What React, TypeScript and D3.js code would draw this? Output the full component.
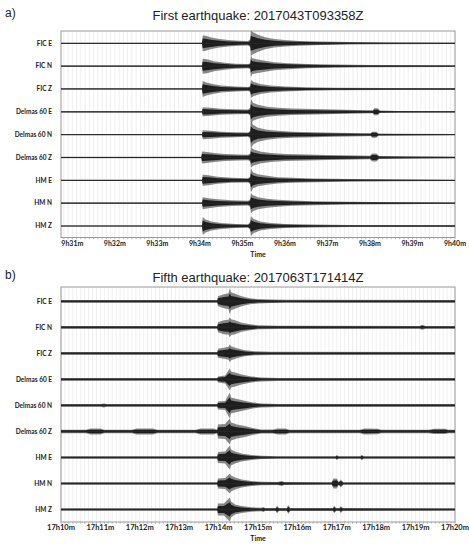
import React from "react";
import * as d3 from "d3";

// ---------- data ----------
const stations = ["FIC E", "FIC N", "FIC Z", "Delmas 60 E", "Delmas 60 N", "Delmas 60 Z", "HM E", "HM N", "HM Z"];

// Panel a: time in seconds after 09h30m00, envelope half-amplitude (arbitrary units)
const titleA = "First earthquake: 2017043T093358Z";
const domainA: [number, number] = [44, 600];
const tickSecA = [60, 120, 180, 240, 300, 360, 420, 480, 540, 600];
const tickLabA = ["9h31m", "9h32m", "9h33m", "9h34m", "9h35m", "9h36m", "9h37m", "9h38m", "9h39m", "9h40m"];

const aFicE: [number, number][] = [[44,0.6],[243,0.6],[244,8],[248,7.5],[255,6],[265,4.5],[280,3.2],[295,2.5],[308,2.2],[311,4],[312,12.5],[315,11],[322,8.5],[332,6],[345,4.2],[360,3.2],[380,2.4],[410,1.8],[450,1.3],[500,0.9],[600,0.7]];
const aFicN: [number, number][] = [[44,0.6],[243,0.6],[244,7.5],[250,7],[260,5],[275,3.5],[290,2.5],[308,2.2],[311,3],[312,11],[314,8],[320,7],[332,5.5],[345,4],[365,3],[390,2.2],[430,1.6],[480,1.1],[600,0.8]];
const aFicZ: [number, number][] = [[44,0.6],[243,0.6],[244,8],[249,6.5],[258,5],[270,3.5],[290,2.5],[308,2],[311,3],[312,9],[316,7],[325,5],[340,3.5],[360,2.5],[390,1.8],[430,1.3],[500,0.9],[600,0.7]];
const aDelE: [number, number][] = [[44,0.6],[243,0.6],[244,4.5],[255,4],[270,3],[290,2.5],[308,2.3],[311,4],[312,13],[315,9],[322,7],[335,5],[350,4],[370,3.2],[400,2.8],[430,2.2],[470,1.6],[484,1.5],[486,3.5],[491,3.5],[494,1.2],[520,0.9],[600,0.7]];
const aDelN: [number, number][] = [[44,0.6],[243,0.6],[244,4.5],[255,4],[270,3],[290,2.5],[308,2.2],[311,4],[312,14],[315,10],[322,7],[335,5],[350,3.8],[370,3],[400,2.5],[430,2],[470,1.5],[481,1.3],[483,3],[489,3],[492,1.2],[520,0.9],[600,0.7]];
const aDelZ: [number, number][] = [[44,0.7],[242,0.7],[243,6],[250,5.5],[260,4.5],[275,3.5],[295,3],[308,2.8],[311,4],[312,10],[316,8],[325,6],[340,4.5],[360,3.5],[390,3],[420,2.5],[460,2],[480,1.8],[483,4],[489,4],[493,1.6],[530,1.2],[600,1]];
const aHmE: [number, number][] = [[44,0.6],[243,0.6],[244,5.5],[252,5],[265,3.5],[285,2.5],[308,2.2],[311,4],[312,12],[315,8],[322,6],[335,4.5],[350,3.2],[370,2.5],[400,1.8],[450,1.3],[520,0.9],[600,0.7]];
const aHmN: [number, number][] = [[44,0.6],[243,0.6],[244,6],[252,5],[265,3.8],[285,2.8],[308,2.3],[311,4],[312,10],[315,8],[322,6],[335,4.5],[350,3.5],[370,2.7],[400,2],[450,1.4],[520,1],[600,0.7]];
const aHmZ: [number, number][] = [[44,0.6],[243,0.6],[244,9],[248,6.5],[256,4.5],[270,3],[290,2],[308,1.8],[311,4],[312,10],[316,7],[325,4.5],[340,3],[360,2],[400,1.4],[450,1],[600,0.7]];

// Panel b: time in seconds after 17h10m00
const titleB = "Fifth earthquake: 2017063T171414Z";
const domainB: [number, number] = [0, 600];
const tickSecB = [0, 60, 120, 180, 240, 300, 360, 420, 480, 540, 600];
const tickLabB = ["17h10m", "17h11m", "17h12m", "17h13m", "17h14m", "17h15m", "17h16m", "17h17m", "17h18m", "17h19m", "17h20m"];

const bFicE: [number, number][] = [[0,1.4],[238,1.4],[239,5],[248,7],[255,8],[257,13],[259,9],[265,7.5],[275,5],[288,3],[300,2.2],[320,1.8],[340,1.5],[600,1.4]];
const bFicN: [number, number][] = [[0,1.4],[238,1.4],[239,5],[248,7],[255,7.5],[257,10],[259,8],[265,7],[275,4.5],[288,3],[300,2],[330,1.6],[546,1.4],[550,2.5],[555,1.4],[600,1.4]];
const bFicZ: [number, number][] = [[0,1.4],[238,1.4],[239,4.5],[248,5.5],[255,6.5],[257,9],[259,7],[268,5],[280,3],[295,2],[320,1.6],[600,1.4]];
const bDelE: [number, number][] = [[0,1.3],[238,1.3],[239,3],[250,4],[257,11],[259,8],[265,7],[275,5],[290,3],[305,2],[330,1.5],[600,1.3]];
const bDelN: [number, number][] = [[0,1.3],[60,1.3],[65,2],[70,1.3],[238,1.3],[239,4],[250,4.5],[257,13],[259,8],[265,7],[278,5],[292,3],[305,2],[330,1.5],[600,1.3]];
const bDelZ: [number, number][] = [[0,1.8],[38,1.8],[45,3],[60,3],[66,1.8],[108,1.8],[115,3],[140,3],[147,1.8],[205,1.8],[212,3],[232,3],[238,2],[239,7],[250,7.5],[257,13],[259,9],[268,7],[280,5.5],[292,3.5],[305,2],[322,2],[330,3],[342,3],[348,1.8],[455,1.8],[462,3],[482,2.8],[488,1.8],[560,1.8],[568,2.6],[585,2.6],[590,1.8],[600,1.8]];
const bHmE: [number, number][] = [[0,1.2],[238,1.2],[239,5.5],[250,6],[257,12],[259,8],[265,6],[275,4],[290,2.5],[305,1.6],[330,1.3],[418,1.3],[420,2.5],[423,1.3],[456,1.3],[458,2.8],[461,1.3],[600,1.2]];
const bHmN: [number, number][] = [[0,1.2],[238,1.2],[239,5],[250,5.5],[257,10],[259,8],[265,6],[275,4],[290,2.5],[305,1.8],[330,1.6],[336,2.5],[340,1.5],[412,1.3],[415,5],[420,5],[423,1.5],[426,4],[430,1.3],[600,1.2]];
const bHmZ: [number, number][] = [[0,1.2],[238,1.2],[239,6],[248,6],[257,12],[259,8],[265,5],[275,3.5],[290,2.2],[305,1.8],[308,2.5],[311,1.6],[327,1.6],[329,3.8],[332,1.6],[344,1.6],[346,4.5],[349,1.6],[414,1.5],[416,3.8],[419,1.5],[424,1.5],[426,3.5],[429,1.5],[600,1.2]];

const seriesA = [aFicE, aFicN, aFicZ, aDelE, aDelN, aDelZ, aHmE, aHmN, aHmZ];
const seriesB = [bFicE, bFicN, bFicZ, bDelE, bDelN, bDelZ, bHmE, bHmN, bHmZ];

// ---------- component ----------
type PanelProps = {
  tag: string;
  title: string;
  titleY: number;
  top: number;
  bottom: number;
  traceTop: number;
  traceBottom: number;
  domain: [number, number];
  tickSec: number[];
  tickLab: string[];
  series: [number, number][][];
  tickFont: number;
};

function Panel(p: PanelProps) {
  const left = 61;
  const right = 455;
  const x = d3.scaleLinear().domain(p.domain).range([left, right]);
  const y = d3.scalePoint<string>().domain(stations).range([p.traceTop, p.traceBottom]);
  const amp = d3.scaleLinear().domain([0, 10]).range([0, 10]);
  const grid = d3.range(Math.ceil(p.domain[0] / 6) * 6, p.domain[1] + 0.1, 6);

  return (
    <g>
      <text x={5} y={p.titleY - 3} fontFamily="Liberation Sans, Arial, sans-serif" fontSize={12} fill="#222">{p.tag}</text>
      <text x={258} y={p.titleY} textAnchor="middle" fontFamily="Liberation Sans, Arial, sans-serif" fontSize={13} fill="#222">{p.title}</text>
      {grid.map((g, i) => (
        <line key={"g" + i} x1={x(g)} x2={x(g)} y1={p.top} y2={p.bottom} stroke="#ebebeb" strokeWidth={0.8} />
      ))}
      {grid.map((g, i) => (
        <line key={"m" + i} x1={x(g)} x2={x(g)} y1={p.bottom} y2={p.bottom + 1.8} stroke="#aaa" strokeWidth={0.8} />
      ))}
      <rect x={left} y={p.top} width={right - left} height={p.bottom - p.top} fill="none" stroke="#9a9a9a" strokeWidth={1} />
      {stations.map((s, i) => {
        const yc = y(s) as number;
        const outer = d3.area<[number, number]>()
          .x((d) => x(d[0]))
          .y0((d) => yc + amp(d[1]))
          .y1((d) => yc - amp(d[1]));
        const inner = d3.area<[number, number]>()
          .x((d) => x(d[0]))
          .y0((d) => yc + amp(d[1]) * 0.6)
          .y1((d) => yc - amp(d[1]) * 0.6);
        return (
          <g key={s}>
            <path d={outer(p.series[i]) || ""} fill="#555" fillOpacity={0.7} />
            <path d={inner(p.series[i]) || ""} fill="#1e1e1e" />
            <line x1={left} x2={right} y1={yc} y2={yc} stroke="#2a2a2a" strokeWidth={0.8} />
            <text x={52} y={yc + 2.2} textAnchor="end" fontFamily="Lato, sans-serif" fontWeight="bold" fontSize={6.5} fill="#222">{s}</text>
          </g>
        );
      })}
      {p.tickSec.map((t, i) => (
        <text key={"t" + i} x={x(t)} y={p.bottom + 8} textAnchor="middle" fontFamily="Lato, sans-serif" fontWeight="bold" fontSize={p.tickFont} fill="#222">{p.tickLab[i]}</text>
      ))}
      <text x={(left + right) / 2} y={p.bottom + 19} textAnchor="middle" fontFamily="Lato, sans-serif" fontWeight="bold" fontSize={7} fill="#222">Time</text>
    </g>
  );
}

export default function App() {
  return (
    <svg width={469} height={550} style={{ position: "absolute", left: 0, top: 0, background: "#fff" }}>
      <rect x={0} y={0} width={469} height={550} fill="#fff" />
      <Panel tag="a)" title={titleA} titleY={20} top={31} bottom={237.5} traceTop={43.3} traceBottom={226}
        domain={domainA} tickSec={tickSecA} tickLab={tickLabA} series={seriesA} tickFont={7} />
      <Panel tag="b)" title={titleB} titleY={282} top={287} bottom={522} traceTop={301.3} traceBottom={509.5}
        domain={domainB} tickSec={tickSecB} tickLab={tickLabB} series={seriesB} tickFont={7.5} />
    </svg>
  );
}
